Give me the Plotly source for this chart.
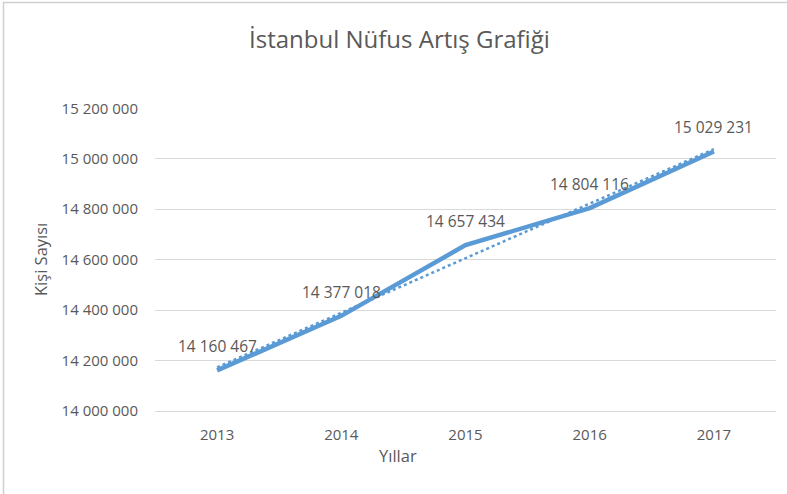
import numpy as np
import plotly.graph_objects as go

years = ["2013", "2014", "2015", "2016", "2017"]
population = [14160467, 14377018, 14657434, 14804116, 15029231]
y_ticks = [14000000, 14200000, 14400000, 14600000, 14800000, 15000000, 15200000]

def fmt(v):
    return f"{v:,}".replace(",", " ")

# linear trendline (least squares fit of the data)
idx = np.arange(len(population))
slope, intercept = np.polyfit(idx, population, 1)
trend = [slope * i + intercept for i in idx]

TEXT = "#595959"
BLUE = "#5b9bd5"
FONT = "Open Sans"

fig = go.Figure()
fig.add_trace(go.Scatter(x=years, y=trend, mode="lines",
                         line=dict(color=BLUE, width=2.5, dash="dot"),
                         hoverinfo="skip", showlegend=False))
fig.add_trace(go.Scatter(x=years, y=population, mode="lines",
                         line=dict(color=BLUE, width=4.5),
                         showlegend=False))

for i, v in enumerate(population):
    fig.add_annotation(x=i, y=v, text=fmt(v), showarrow=False, yshift=24,
                       xanchor="center", yanchor="middle",
                       font=dict(family=FONT, size=15.5, color=TEXT))

L, R, T, B = 155, 11, 108, 83
W, H = 787, 494
pw, ph = W - L - R, H - T - B

def px(x):
    return (x - L) / pw

def py(y):
    return (H - B - y) / ph

fig.add_annotation(x=px(40), y=py(260), xref="paper", yref="paper",
                   text="Kişi Sayısı", textangle=-90, showarrow=False,
                   xanchor="center", yanchor="middle",
                   font=dict(family=FONT, size=16.5, color=TEXT))
fig.add_annotation(x=px(398), y=py(455), xref="paper", yref="paper",
                   text="Yıllar", showarrow=False,
                   xanchor="center", yanchor="middle",
                   font=dict(family=FONT, size=16.5, color=TEXT))
fig.add_annotation(x=px(399), y=py(38), xref="paper", yref="paper",
                   text="İstanbul Nüfus Artış Grafiği", showarrow=False,
                   xanchor="center", yanchor="middle",
                   font=dict(family=FONT, size=24, color=TEXT))

fig.add_shape(type="rect", xref="paper", yref="paper",
              x0=px(3.5), y0=py(520), x1=px(820), y1=py(2.5),
              line=dict(color="#d0d0d0", width=1.5), fillcolor="rgba(0,0,0,0)")

fig.update_layout(
    width=W, height=H,
    margin=dict(l=L, r=R, t=T, b=B),
    paper_bgcolor="white", plot_bgcolor="white",
    font=dict(family=FONT, size=15, color=TEXT),
    xaxis=dict(type="category", range=[-0.5, 4.5], showgrid=False,
               showline=True, linecolor="#d9d9d9", linewidth=1,
               ticks="", ticklabelstandoff=10, zeroline=False,
               tickfont=dict(family=FONT, size=15, color=TEXT)),
    yaxis=dict(range=[14000000 - 500, 15200000 + 1500],
               tickvals=y_ticks, ticktext=[fmt(v) for v in y_ticks],
               showgrid=True, gridcolor="#d9d9d9", gridwidth=1,
               zeroline=False, showline=False, ticks="",
               ticklabelstandoff=16,
               tickfont=dict(family=FONT, size=15, color=TEXT)),
)

fig.write_html("out.html", config={"displayModeBar": False},
               post_script="document.body.style.margin='0';document.body.style.overflow='hidden';")
